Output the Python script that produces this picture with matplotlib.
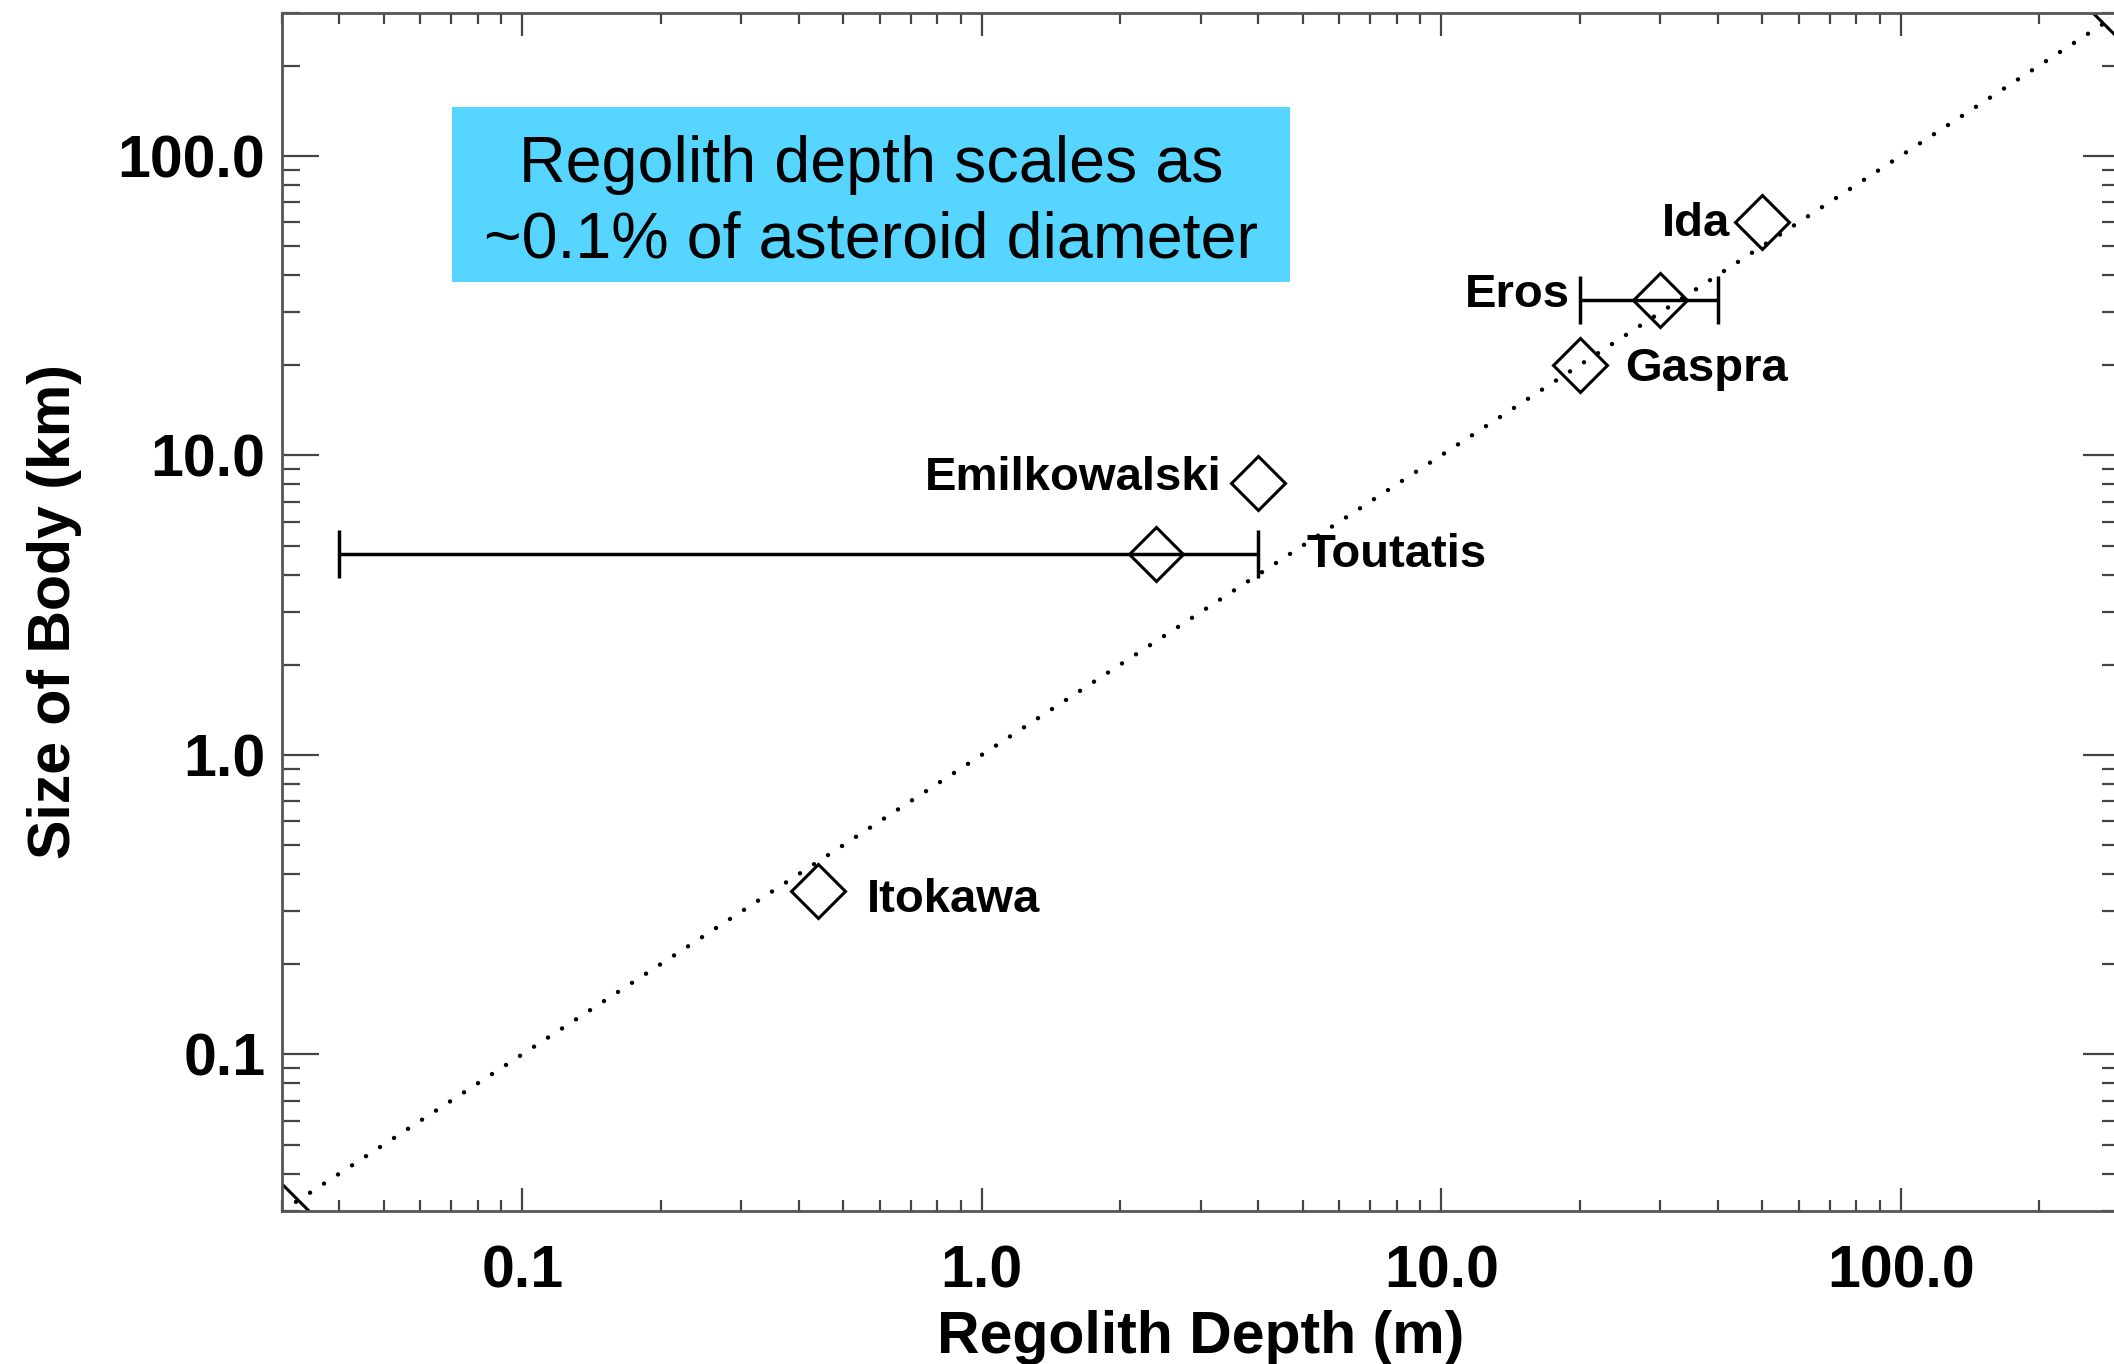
import numpy as np
import matplotlib
matplotlib.use("Agg")
import matplotlib.pyplot as plt
from matplotlib.ticker import FixedLocator, LogLocator, NullFormatter, FixedFormatter
from matplotlib.patches import Rectangle

plt.rcParams['font.family'] = ['Liberation Sans', 'DejaVu Sans']

# data
names = ['Ida', 'Eros', 'Gaspra', 'Emilkowalski', 'Toutatis', 'Itokawa']
depth_m = [50, 30, 20, 4.0, 2.4, 0.44]
size_km = [60, 33, 20, 8.1, 4.7, 0.35]
# bodies with a depth range (low, high)
err_names = ['Eros', 'Toutatis']
err_lo = [20, 0.04]
err_hi = [40, 4.0]

tick_vals = [0.1, 1.0, 10.0, 100.0]
tick_text = ['0.1', '1.0', '10.0', '100.0']
ytick_text = ['0.1', '1.0', '10.0', '100.0']
lim = (0.03, 300)

box_lines = ['Regolith depth scales as', '~0.1% of asteroid diameter']

# label placement (offset points, alignment)
label_pos = {
    'Ida': (-23, -10, 'right'),
    'Eros': (-65, -5, 'right'),
    'Gaspra': (33, -11.5, 'left'),
    'Emilkowalski': (-26.5, -5, 'right'),
    'Toutatis': (108, -9.5, 'left'),
    'Itokawa': (35, -14.5, 'left'),
}

fig = plt.figure(figsize=(21.14, 13.64), dpi=100)
ax = fig.add_axes([0.1334, 0.1122, 0.8694, 0.8783])
ax.set_xscale('log')
ax.set_yscale('log')
ax.set_xlim(lim)
ax.set_ylim(lim)

# 0.1% line (depth in m equals diameter in km)
ax.plot(lim, lim, color='black', lw=3.2, linestyle=(0, (0.01, 3.75)),
        dash_capstyle='round', marker='D', markersize=27.5,
        markerfacecolor='none', markeredgecolor='black', markeredgewidth=2.2)

for n, lo, hi in zip(err_names, err_lo, err_hi):
    i = names.index(n)
    x = depth_m[i]
    ax.errorbar([x], [size_km[i]], xerr=[[x - lo], [hi - x]], fmt='none',
                ecolor='black', elinewidth=2.5, capsize=17, capthick=2.5)

ax.plot(depth_m, size_km, linestyle='none', marker='D', markersize=27.5,
        markerfacecolor='none', markeredgecolor='black', markeredgewidth=2.2)

for n, x, y in zip(names, depth_m, size_km):
    dx, dy, ha = label_pos[n]
    ax.annotate(n, (x, y), xytext=(dx, dy), textcoords='offset points',
                ha=ha, va='baseline', fontsize=34, fontweight='bold')

ax.xaxis.set_major_locator(FixedLocator(tick_vals))
ax.xaxis.set_major_formatter(FixedFormatter(tick_text))
ax.yaxis.set_major_locator(FixedLocator(tick_vals))
ax.yaxis.set_major_formatter(FixedFormatter(ytick_text))
for a in (ax.xaxis, ax.yaxis):
    a.set_minor_locator(LogLocator(base=10, subs=np.arange(2, 10)))
    a.set_minor_formatter(NullFormatter())

ax.tick_params(axis='both', which='both', direction='in', top=True, right=True,
               color='#444444', width=1.6)
ax.tick_params(axis='x', which='major', length=16.5, pad=24, labelsize=42.5)
ax.tick_params(axis='x', which='minor', length=8)
ax.tick_params(axis='y', which='major', length=26.6, pad=12, labelsize=42.5)
ax.tick_params(axis='y', which='minor', length=13)
for lab in ax.get_xticklabels() + ax.get_yticklabels():
    lab.set_fontweight('bold')

for s in ax.spines.values():
    s.set_color('#555555')
    s.set_linewidth(2)

ax.set_xlabel('Regolith Depth (m)', fontsize=42.5, fontweight='bold')
ax.set_ylabel('Size of Body (km)', fontsize=42.5, fontweight='bold')
ax.xaxis.set_label_coords(0.5, -0.083)
ax.yaxis.set_label_coords(-0.109, 0.5)

# highlighted note
fig.patches.append(Rectangle((0.2138, 0.7933), 0.3964, 0.1282,
                             transform=fig.transFigure, facecolor='#55D5FF',
                             edgecolor='none', zorder=5))
fig.text(0.412, 0.8666, box_lines[0], ha='center', va='baseline', fontsize=46.5, zorder=6)
fig.text(0.412, 0.8111, box_lines[1], ha='center', va='baseline', fontsize=46.5, zorder=6)

fig.savefig('out.png', dpi=100)
